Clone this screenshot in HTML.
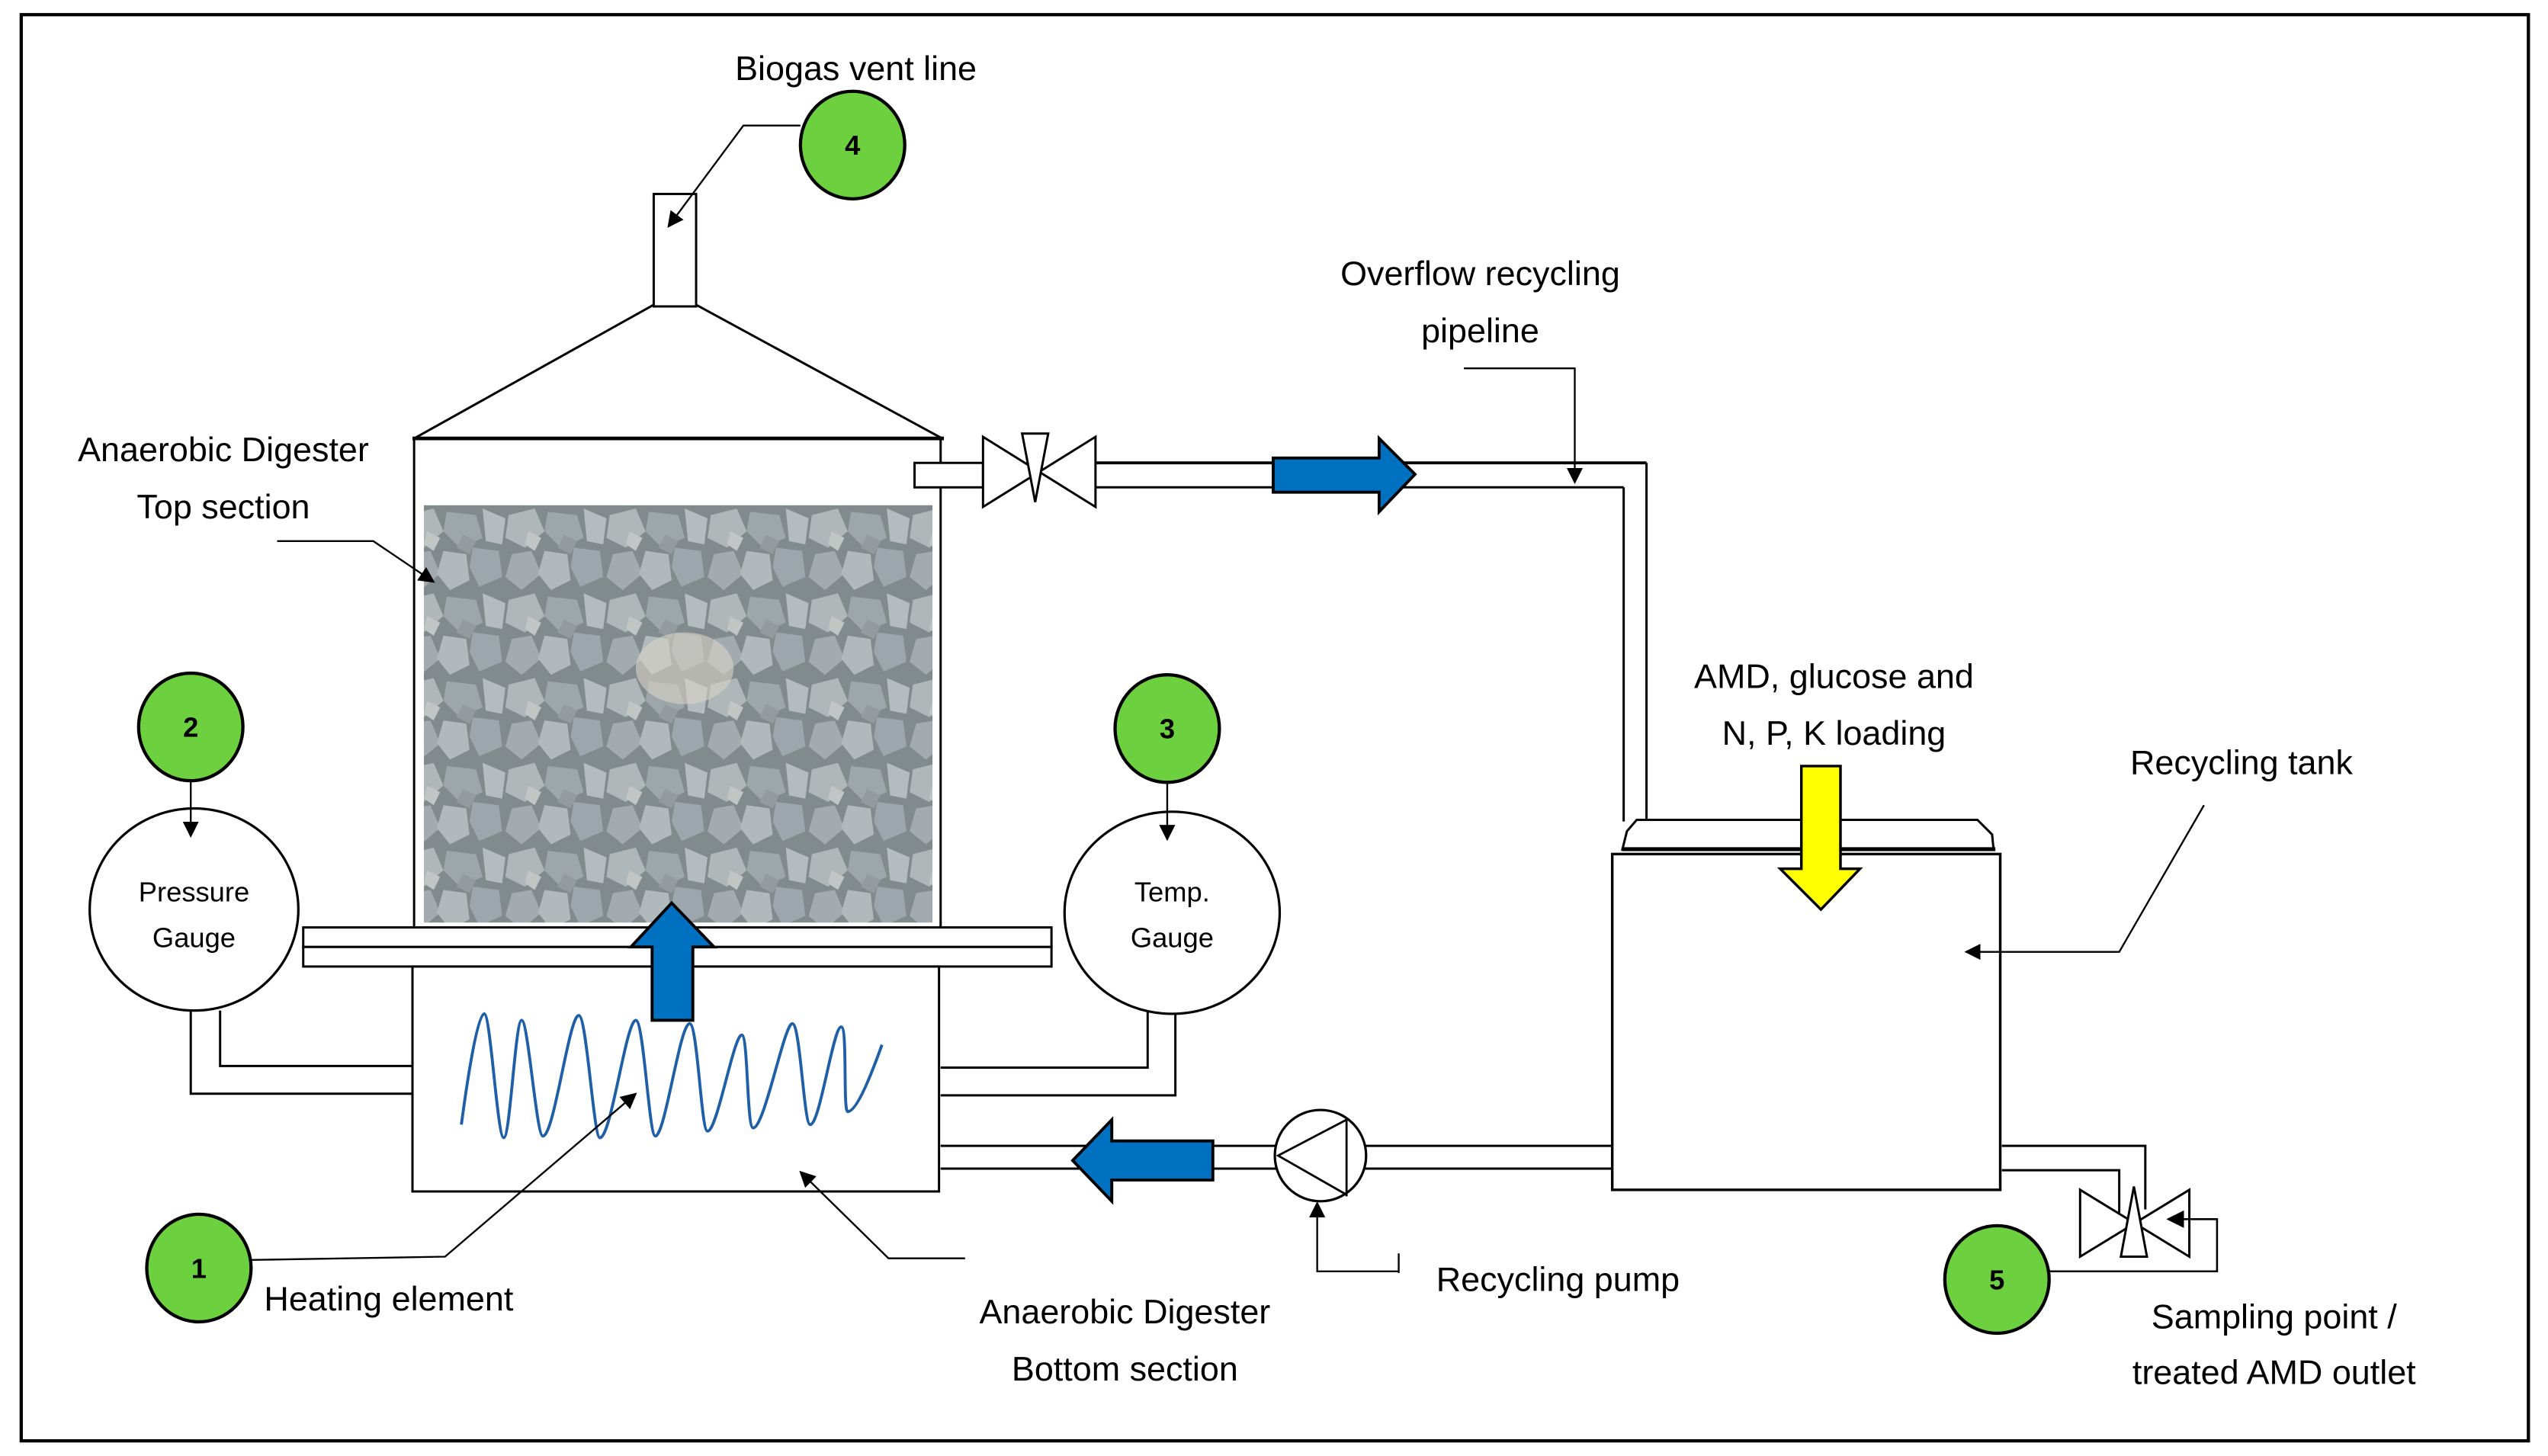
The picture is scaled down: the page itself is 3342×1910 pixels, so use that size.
<!DOCTYPE html>
<html><head><meta charset="utf-8"><style>
html,body{margin:0;padding:0;background:#fff;}
svg{display:block;}
text{font-family:"Liberation Sans",sans-serif;fill:#000;}
</style></head><body>
<svg width="3342" height="1910" viewBox="0 0 1563 893.3" xmlns="http://www.w3.org/2000/svg">
<defs>
<marker id="ah" viewBox="0 0 10 10" refX="9" refY="5" markerWidth="9" markerHeight="9" orient="auto"><path d="M0,0 L10,5 L0,10 z" fill="#000"/></marker>
<pattern id="rocks" width="62" height="52" patternUnits="userSpaceOnUse">
<rect width="62" height="52" fill="#727a7b"/>
<polygon points="2,4 18,0 24,14 12,24 0,18" fill="#b3babc"/>
<polygon points="26,2 44,4 48,18 34,24 24,14" fill="#9aa2a8"/>
<polygon points="48,0 62,6 60,22 50,20" fill="#bcc2c4"/>
<polygon points="4,28 16,26 22,40 10,50 0,42" fill="#a3aab0"/>
<polygon points="24,26 38,28 40,44 28,50 20,40" fill="#b8bec0"/>
<polygon points="42,24 58,26 60,42 46,48 40,36" fill="#9ba2ab"/>
<polygon points="14,14 22,18 18,26 12,22" fill="#cdd0cc"/>
<polygon points="36,16 44,20 40,28 32,24" fill="#8c9397"/>
</pattern>
</defs>
<rect x="0" y="0" width="1563" height="893.3" fill="#fff"/>
<rect x="13" y="9" width="1538" height="875" fill="none" stroke="#000" stroke-width="2"/>

<g stroke="#000" fill="none" stroke-width="1.4">
<rect x="401" y="119" width="26" height="69" fill="#fff"/>
<line x1="401" y1="187" x2="254" y2="269"/>
<line x1="427" y1="187" x2="578" y2="269"/>
<line x1="253" y1="269" x2="579" y2="269" stroke-width="2.2"/>
<line x1="254" y1="269" x2="254" y2="569"/>
<line x1="577" y1="269" x2="577" y2="569"/>
</g>
<rect x="260" y="310" width="312" height="256" fill="url(#rocks)"/>
<rect x="260" y="310" width="312" height="256" fill="#a6aeb2" opacity="0.3"/>
<ellipse cx="420" cy="410" rx="30" ry="22" fill="#d8d4c8" opacity="0.6"/>

<g stroke="#000" fill="#fff" stroke-width="1.4">
<rect x="186" y="569" width="459" height="12"/>
<rect x="186" y="581" width="459" height="12"/>
<rect x="253" y="593" width="323" height="138"/>
</g>
<path d="M283,690 C287,660 293,622 297,622 C301,622 305,698 309,698 C313,698 316,626 320,626 C324,626 329,697 333,697 C340,697 349,623 355,623 C360,623 364,698 368,698 C375,698 384,626 390,626 C395,626 398,697 402,697 C408,697 417,628 423,628 C428,628 430,694 434,694 C440,694 450,635 455,635 C459,635 458,692 462,692 C469,692 481,628 486,628 C491,628 493,690 497,690 C503,690 511,630 516,630 C520,630 517,682 520,682 C526,682 536,655 541,641" fill="none" stroke="#1f5fa8" stroke-width="1.8"/>
<path d="M400,626 L400,581 L387,581 L412,554 L438,581 L425,581 L425,626 Z" fill="#0070c0" stroke="#000" stroke-width="1.8"/>

<g stroke="#000" fill="none" stroke-width="1.4">
<polyline points="117,620 117,671 253,671"/>
<polyline points="135,620 135,654 253,654"/>
<polyline points="721,620 721,672 577,672"/>
<polyline points="704,620 704,655 577,655"/>
<line x1="577" y1="703" x2="783" y2="703"/>
<line x1="577" y1="717" x2="783" y2="717"/>
<line x1="837" y1="703" x2="990" y2="703"/>
<line x1="837" y1="717" x2="990" y2="717"/>
</g>
<ellipse cx="119" cy="558" rx="64" ry="62" fill="#fff" stroke="#000" stroke-width="1.5"/>
<ellipse cx="719" cy="560" rx="66" ry="62" fill="#fff" stroke="#000" stroke-width="1.5"/>
<text x="119" y="553" font-size="17" text-anchor="middle">Pressure</text>
<text x="119" y="581" font-size="17" text-anchor="middle">Gauge</text>
<text x="719" y="553" font-size="17" text-anchor="middle">Temp.</text>
<text x="719" y="581" font-size="17" text-anchor="middle">Gauge</text>

<path d="M744,700 L744,724 L682,724 L682,737 L658,712 L682,687 L682,700 Z" fill="#0070c0" stroke="#000" stroke-width="1.8"/>
<ellipse cx="810" cy="709" rx="28" ry="28" fill="#fff" stroke="#000" stroke-width="1.5"/>
<polyline points="826,687 784,709 826,733" fill="none" stroke="#000" stroke-width="1.3"/>
<line x1="826" y1="686" x2="826" y2="734" stroke="#000" stroke-width="1.3"/>

<g stroke="#000" stroke-width="1.4" fill="#fff">
<rect x="561" y="284" width="42" height="15"/>
<line x1="672" y1="284" x2="1010" y2="284" stroke-width="1.8"/>
<line x1="672" y1="299" x2="996" y2="299"/>
<line x1="1010" y1="284" x2="1010" y2="504"/>
<line x1="996" y1="299" x2="996" y2="504"/>
<polygon points="603,268 603,311 672,268 672,311"/>
<polygon points="627,266 643,266 635,308"/>
</g>
<path d="M781,281 L846,281 L846,269 L868,291 L846,314 L846,302 L781,302 Z" fill="#0070c0" stroke="#000" stroke-width="1.8"/>

<path d="M995,522 L998,510 L1004,503 L1213,503 L1222,512 L1223,522" fill="#fff" stroke="#000" stroke-width="1.4"/>
<line x1="995" y1="521" x2="1224" y2="521" stroke="#000" stroke-width="2.4"/>
<rect x="989" y="524" width="238" height="206" fill="#fff" stroke="#000" stroke-width="1.6"/>
<path d="M1105,470 L1129,470 L1129,533 L1141,533 L1117,558 L1092,533 L1105,533 Z" fill="#ffff00" stroke="#000" stroke-width="1.6"/>

<g stroke="#000" stroke-width="1.4" fill="#fff">
<polyline points="1228,703 1316,703 1316,742" fill="none"/>
<polyline points="1228,718 1300,718 1300,744" fill="none"/>
<polygon points="1276,730 1276,771 1343,730 1343,771"/>
<polygon points="1309,728 1301,771 1317,771"/>
</g>
<polyline points="1226,780 1360,780 1360,748 1330,748" fill="none" stroke="#000" stroke-width="1.2" marker-end="url(#ah)"/>

<g stroke="#000" stroke-width="1.1" fill="none">
<polyline points="491,77 456,77 410,139" marker-end="url(#ah)"/>
<polyline points="170,332 229,332 266,357" marker-end="url(#ah)"/>
<polyline points="117,478 117,513" marker-end="url(#ah)"/>
<polyline points="716,479 716,515" marker-end="url(#ah)"/>
<polyline points="154,773 273,771 390,671" marker-end="url(#ah)"/>
<polyline points="592,772 545,772 491,719" marker-end="url(#ah)"/>
<polyline points="858,780 808,780 808,738" marker-end="url(#ah)"/>
<line x1="858" y1="769" x2="858" y2="781"/>
<polyline points="898,226 966,226 966,296" marker-end="url(#ah)"/>
<polyline points="1352,494 1300,584 1206,584" marker-end="url(#ah)"/>
</g>

<g fill="#6dd03e" stroke="#000" stroke-width="2">
<ellipse cx="523" cy="89" rx="32" ry="33"/>
<ellipse cx="117" cy="446" rx="32" ry="33"/>
<ellipse cx="716" cy="447" rx="32" ry="33"/>
<ellipse cx="122" cy="778" rx="32" ry="33"/>
<ellipse cx="1225" cy="785" rx="32" ry="33"/>
</g>
<g font-size="17" font-weight="bold" text-anchor="middle">
<text x="523" y="95">4</text>
<text x="117" y="452">2</text>
<text x="716" y="453">3</text>
<text x="122" y="784">1</text>
<text x="1225" y="791">5</text>
</g>

<g font-size="21">
<text x="525" y="49" text-anchor="middle">Biogas vent line</text>
<text x="137" y="283" text-anchor="middle">Anaerobic Digester</text>
<text x="137" y="318" text-anchor="middle">Top section</text>
<text x="908" y="175" text-anchor="middle">Overflow recycling</text>
<text x="908" y="210" text-anchor="middle">pipeline</text>
<text x="1125" y="422" text-anchor="middle">AMD, glucose and</text>
<text x="1125" y="457" text-anchor="middle">N, P, K loading</text>
<text x="1375" y="475" text-anchor="middle">Recycling tank</text>
<text x="162" y="804">Heating element</text>
<text x="690" y="812" text-anchor="middle">Anaerobic Digester</text>
<text x="690" y="847" text-anchor="middle">Bottom section</text>
<text x="881" y="792">Recycling pump</text>
<text x="1395" y="815" text-anchor="middle">Sampling point /</text>
<text x="1395" y="849" text-anchor="middle">treated AMD outlet</text>
</g>
</svg>
</body></html>
